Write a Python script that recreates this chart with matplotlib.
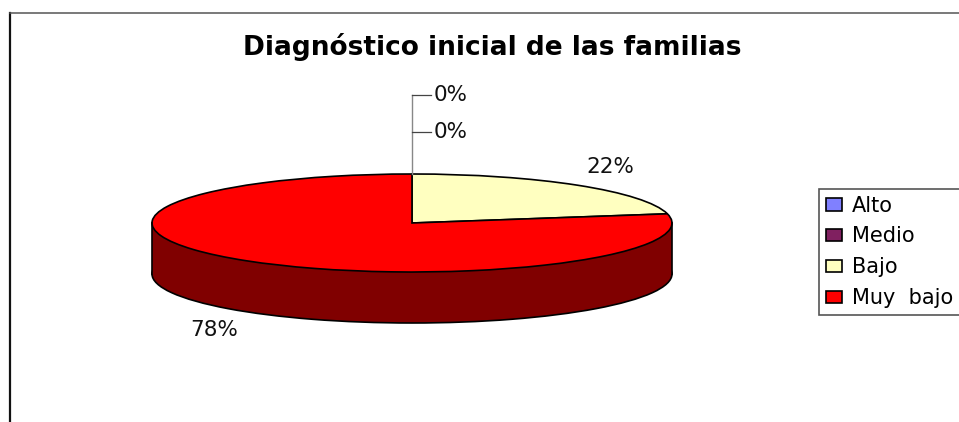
import matplotlib
matplotlib.use("Agg")
import matplotlib.pyplot as plt
from matplotlib.lines import Line2D
from matplotlib.patches import Rectangle

W, H = 959, 422

categorias = ['Alto', 'Medio', 'Bajo', 'Muy  bajo']
valores = [0, 0, 22, 78]
etiquetas = ['0%', '0%', '22%', '78%']
colores = ['#8080FF', '#802060', '#FFFFC0', '#FF0000']
color_lado = '#800000'

plt.rcParams['font.family'] = ['DejaVu Sans']


def fx(px):
    return px / W


def fy(py):
    return 1 - py / H


fig = plt.figure(figsize=(W / 100, H / 100), dpi=100, facecolor='white')

# marco exterior, cortado por la derecha y por abajo
fig.add_artist(Line2D([fx(10), fx(10)], [fy(13), 0], color='#111111', lw=1.6))
fig.add_artist(Line2D([fx(10), 1], [fy(13), fy(13)], color='#555555', lw=1.1))

# eje ajustado a la elipse superior de la torta
ax = fig.add_axes([fx(152), fy(272), 520 / W, 98 / H])
profundidad = 51 / 49

# cuerpo de la torta
ax.pie([sum(valores)], colors=[color_lado], startangle=90, center=(0, -profundidad),
       wedgeprops={'edgecolor': 'black', 'linewidth': 1.2, 'clip_on': False})
ax.add_patch(Rectangle((-1, -profundidad), 2, profundidad, facecolor=color_lado,
                       edgecolor='none', clip_on=False))
ax.plot([-1, -1], [0, -profundidad], color='black', lw=1.2, clip_on=False)
ax.plot([1, 1], [0, -profundidad], color='black', lw=1.2, clip_on=False)

# cara superior
ax.pie(valores, colors=colores, startangle=90, counterclock=False,
       wedgeprops={'edgecolor': 'black', 'linewidth': 1.2, 'clip_on': False})
ax.set_aspect('auto')
ax.set_xlim(-1, 1)
ax.set_ylim(-1, 1)

# lineas guia de las etiquetas en 0%
fig.add_artist(Line2D([fx(412), fx(412)], [fy(174), fy(95)], color='#888888', lw=1.0))
fig.add_artist(Line2D([fx(412), fx(431)], [fy(95), fy(95)], color='#444444', lw=0.9))
fig.add_artist(Line2D([fx(412), fx(431)], [fy(132), fy(132)], color='#444444', lw=0.9))

# etiquetas
pos_etiquetas = [(451, 95), (451, 132), (610, 167), (214, 330)]
for txt, (px, py) in zip(etiquetas, pos_etiquetas):
    fig.text(fx(px), fy(py), txt, ha='center', va='center', fontsize=15.5, color='#111111')

fig.text(fx(492), fy(47), 'Diagnóstico inicial de las familias', ha='center', va='center',
         fontsize=19, fontweight='bold', color='black')

# leyenda
handles = [Rectangle((0, 0), 1, 1, facecolor=c, edgecolor='black', linewidth=1.2) for c in colores]
leg = fig.legend(handles, categorias, loc='upper left', bbox_to_anchor=(fx(819), fy(189)),
                 borderaxespad=0, fontsize=15, frameon=True, fancybox=False,
                 edgecolor='#555555', framealpha=1, handlelength=0.8, handleheight=0.55,
                 handletextpad=0.45, labelspacing=0.52, borderpad=0.32)
leg.get_frame().set_linewidth(1.2)

fig.savefig('out.png', dpi=100)
plt.close(fig)
